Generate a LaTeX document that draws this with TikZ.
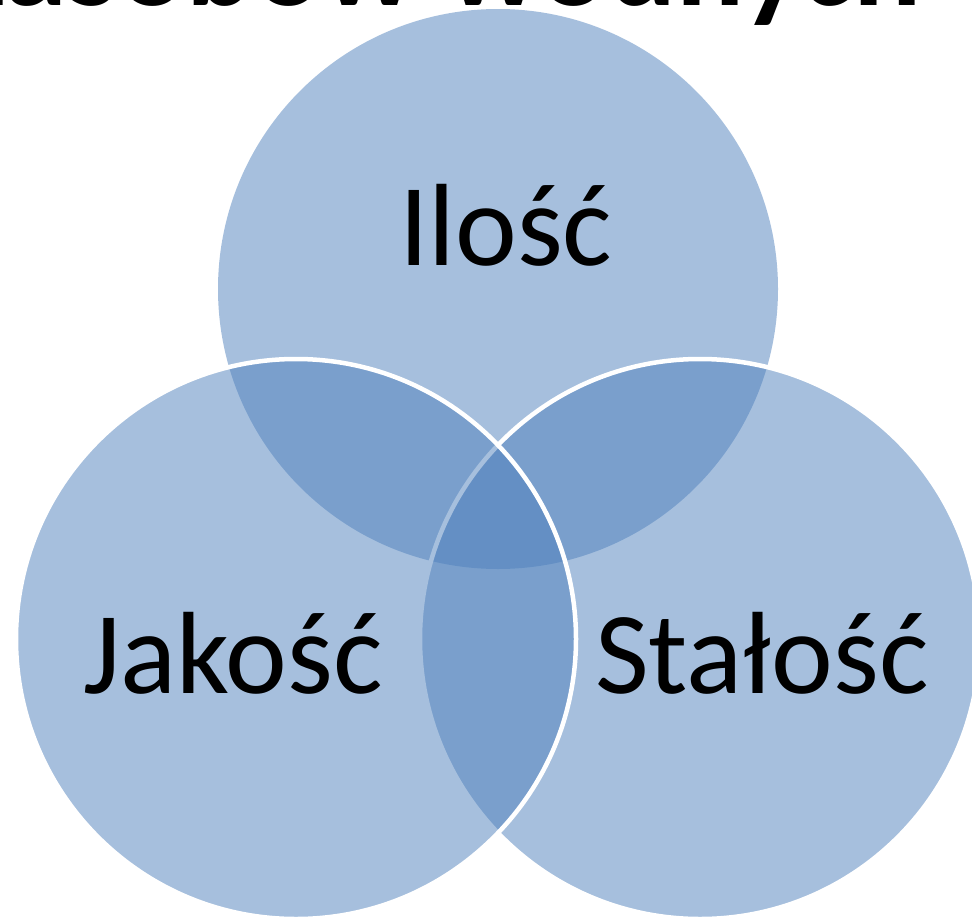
\documentclass[tikz,border=0pt]{standalone}
\usepackage{fontspec}
\setmainfont{Carlito}
\definecolor{vennblue}{RGB}{79,129,189}
\begin{document}
\begin{tikzpicture}[x=1pt,y=-1pt,
  venn/.style={circle,minimum size=560pt,inner sep=0pt,outer sep=0pt,
    fill=vennblue,fill opacity=0.5,draw=white,draw opacity=1,line width=4.5pt},
  lbl/.style={inner sep=0pt,anchor=base west,font=\fontsize{117}{140}\selectfont,text=black},
  ttl/.style={inner sep=0pt,anchor=base east,font=\fontsize{127}{152}\selectfont\bfseries,text=black}]
\useasboundingbox (0,0) rectangle (972,921);
\clip (0,0) rectangle (972,921);
\fill[white] (0,0) rectangle (972,921);
\node[venn,draw=none] (ilosc) at (498,289) {};
\node[venn] (stalosc) at (700,639) {};
\node[venn] (jakosc) at (296,639) {};
\node[ttl] (title) at (922,5) {zasobów wodnych};
\node[lbl] (tilosc) at (399,265) {Ilość};
\node[lbl] (tjakosc) at (83,693) {Jakość};
\node[lbl] (tstalosc) at (595,693) {Stałość};
\end{tikzpicture}
\end{document}
